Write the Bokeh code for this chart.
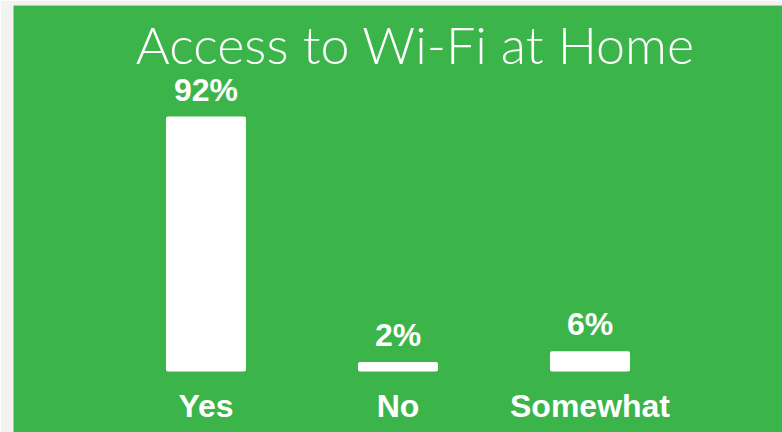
from bokeh.plotting import figure
from bokeh.models import ColumnDataSource, FactorRange, Range1d, LabelSet, Label
from bokeh.core.properties import value
from bokeh.embed import file_html
from bokeh.resources import INLINE

categories = ["Yes", "No", "Somewhat"]
percentages = [92, 2, 6]
title_text = "Access to Wi-Fi at Home"

GREEN = "#3BB54A"

src = ColumnDataSource(dict(
    cat=categories,
    val=percentages,
    lbl=[f"{v}%" for v in percentages],
    zero=[0] * len(categories),
))

p = figure(width=782, height=432, output_backend="svg", toolbar_location=None,
           x_range=FactorRange(factors=categories, range_padding=0.335),
           y_range=Range1d(-23.09, 133.43),
           min_border_left=13, min_border_right=0, min_border_top=5, min_border_bottom=0)
p.background_fill_color = GREEN
p.border_fill_color = "#F2F2F2"
p.outline_line_color = None
p.grid.visible = False
p.axis.visible = False

p.vbar(x="cat", top="val", bottom=0, width=0.396, source=src,
       fill_color="white", line_color="white", line_width=4, line_join="round")

p.add_layout(LabelSet(x="cat", y="val", text="lbl", source=src, y_offset=18,
                      text_align="center", text_baseline="alphabetic",
                      text_font=value("Liberation Sans"), text_font_style="bold",
                      text_font_size="32px", text_color="white"))
p.add_layout(LabelSet(x="cat", y="zero", text="cat", source=src, y_offset=-47,
                      text_align="center", text_baseline="alphabetic",
                      text_font=value("Liberation Sans"), text_font_style="bold",
                      text_font_size="32px", text_color="white"))

p.add_layout(Label(x=402, y=389, x_units="screen", y_units="screen", text=title_text,
                   text_align="center", text_baseline="alphabetic",
                   text_font="Lato Light", text_font_size="52px", text_color="white"))

open("out.html", "w").write(file_html(p, INLINE))
